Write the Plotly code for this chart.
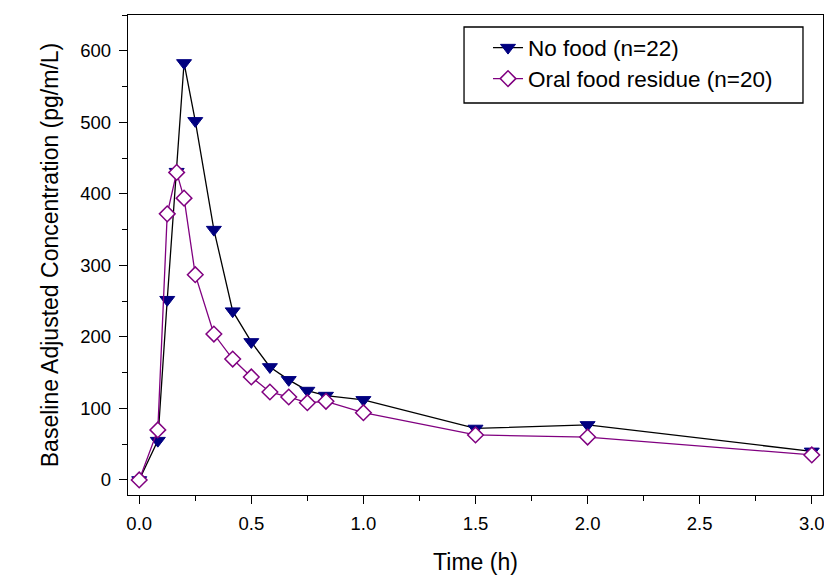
import plotly.graph_objects as go

time_h = [0.0, 0.083, 0.125, 0.167, 0.2, 0.25, 0.333, 0.417, 0.5, 0.583, 0.667, 0.75, 0.833, 1.0, 1.5, 2.0, 3.0]
no_food = [0, 55, 252, 431, 583, 502, 350, 236, 193, 158, 140, 125, 118, 112, 72, 77, 40]
oral_food = [0, 70, 372, 430, 394, 287, 204, 169, 144, 123, 116, 108, 110, 94, 63, 60, 35]

x_ticks = [0.0, 0.5, 1.0, 1.5, 2.0, 2.5, 3.0]
x_tick_labels = ["0.0", "0.5", "1.0", "1.5", "2.0", "2.5", "3.0"]
y_ticks = [0, 100, 200, 300, 400, 500, 600]

FONT = "Liberation Sans, Arial, sans-serif"
LEG_FONT = dict(family=FONT, size=22.5, color="black")

fig = go.Figure()
fig.add_trace(go.Scatter(
    x=time_h, y=no_food, mode="lines+markers", name="No food (n=22)",
    line=dict(color="black", width=1.3),
    marker=dict(symbol="triangle-down", size=13, color="#000080",
                line=dict(color="#000080", width=1)),
    legend="legend",
))
fig.add_trace(go.Scatter(
    x=time_h, y=oral_food, mode="lines+markers", name="Oral food residue (n=20)",
    line=dict(color="#800080", width=1.3),
    marker=dict(symbol="diamond", size=12, color="white",
                line=dict(color="#800080", width=1.5)),
    legend="legend2",
))

# legend frame
fig.add_shape(type="rect", xref="paper", yref="paper",
              x0=0.4835, x1=0.9712, y0=0.8167, y1=0.975,
              line=dict(color="black", width=1.3), fillcolor="white", layer="above")

fig.update_layout(
    width=824, height=577,
    margin=dict(l=128, r=1, t=15, b=82, autoexpand=False),
    paper_bgcolor="white", plot_bgcolor="white",
    font=dict(family=FONT, color="black", size=18),
    showlegend=True,
    legend=dict(
        x=0.518, y=0.9313, xanchor="left", yanchor="middle",
        borderwidth=0, bgcolor="rgba(0,0,0,0)", font=LEG_FONT,
        itemsizing="trace",
    ),
    legend2=dict(
        x=0.518, y=0.8667, xanchor="left", yanchor="middle",
        borderwidth=0, bgcolor="rgba(0,0,0,0)", font=LEG_FONT,
        itemsizing="trace",
    ),
    xaxis=dict(
        range=[-0.05, 3.05], tickvals=x_ticks, ticktext=x_tick_labels,
        showline=True, linecolor="black", linewidth=1.3, mirror=True,
        ticks="outside", ticklen=8, tickwidth=1.3, tickcolor="black",
        minor=dict(dtick=0.25, ticks="outside", ticklen=5, tickwidth=1.3, tickcolor="black"),
        showgrid=False, zeroline=False, automargin=False,
        ticklabeloverflow="allow",
        tickfont=dict(size=18.5), ticklabelstandoff=4,
        title=dict(text="Time (h)", font=dict(size=23), standoff=20),
    ),
    yaxis=dict(
        range=[-21, 650], tickvals=y_ticks,
        showline=True, linecolor="black", linewidth=1.3, mirror=True,
        ticks="outside", ticklen=8, tickwidth=1.3, tickcolor="black",
        minor=dict(dtick=50, ticks="outside", ticklen=5, tickwidth=1.3, tickcolor="black"),
        showgrid=False, zeroline=False, automargin=False,
        tickfont=dict(size=18.5), ticklabelstandoff=4,
        title=dict(text="Baseline Adjusted Concentration (pg/m/L)", font=dict(size=23), standoff=15),
    ),
)

fig.write_html(
    "out.html",
    config={"displayModeBar": False},
    post_script="document.body.style.margin='0';document.body.style.overflow='hidden';",
)
